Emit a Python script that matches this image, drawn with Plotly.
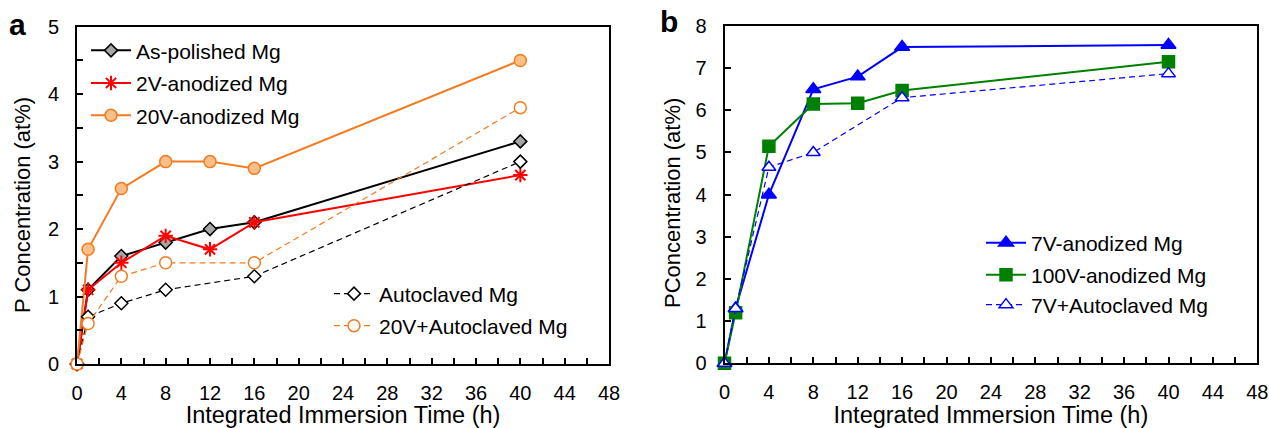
import plotly.graph_objects as go

# ---------------- data ----------------
time_a = [0, 1, 4, 8, 12, 16, 40]
time_auto = [0, 1, 4, 8, 16, 40]
as_polished = [0, 1.1, 1.6, 1.8, 2.0, 2.1, 3.3]
anod_2v = [0, 1.1, 1.5, 1.9, 1.7, 2.1, 2.8]
anod_20v = [0, 1.7, 2.6, 3.0, 3.0, 2.9, 4.5]
autoclaved = [0, 0.7, 0.9, 1.1, 1.3, 3.0]
v20_autoclaved = [0, 0.6, 1.3, 1.5, 1.5, 3.8]

time_b = [0, 1, 4, 8, 12, 16, 40]
anod_7v = [0, 1.3, 4.0, 6.5, 6.8, 7.5, 7.55]
anod_100v = [0, 1.2, 5.15, 6.15, 6.17, 6.47, 7.15]
v7_autoclaved = [0, 1.3, 4.65, 5.0, 6.3, 6.87]

x_ticks = [0, 4, 8, 12, 16, 20, 24, 28, 32, 36, 40, 44, 48]

W, H = 1269, 428
FONT = "Liberation Sans, Arial, sans-serif"
ORANGE = "#F47B20"
LIGHT_ORANGE = "#FBC08A"

fig = go.Figure()

def add(x, y, name, legend, xa, ya, color, dash, symbol, msize, mfill, mline, lw):
    fig.add_trace(go.Scatter(
        x=x, y=y, name=name, mode="lines+markers", legend=legend,
        xaxis=xa, yaxis=ya, cliponaxis=False,
        line=dict(color=color, width=lw, dash=dash),
        marker=dict(symbol=symbol, size=msize, color=mfill,
                    line=dict(color=mline, width=1.5 if symbol != "asterisk-open" else 2)),
    ))

add(time_a, as_polished, "As-polished Mg", "legend", "x", "y", "black", "solid",
    "diamond", 10, "#A6A6A6", "black", 2)
add(time_a, anod_2v, "2V-anodized Mg", "legend2", "x", "y", "#FF0000", "solid",
    "asterisk-open", 12, "#FF0000", "#FF0000", 2)
add(time_a, anod_20v, "20V-anodized Mg", "legend3", "x", "y", ORANGE, "solid",
    "circle", 12, LIGHT_ORANGE, ORANGE, 2)
add(time_auto, autoclaved, "Autoclaved Mg", "legend4", "x", "y", "black", "6px,4px",
    "diamond", 10, "white", "black", 1.2)
add(time_auto, v20_autoclaved, "20V+Autoclaved Mg", "legend5", "x", "y", ORANGE, "6px,4px",
    "circle", 12, "white", ORANGE, 1.2)

add(time_b, anod_7v, "7V-anodized Mg", "legend6", "x2", "y2", "#0000FF", "solid",
    "triangle-up", 13, "#0000FF", "#0000FF", 2)
add(time_b, anod_100v, "100V-anodized Mg", "legend7", "x2", "y2", "#008000", "solid",
    "square", 12, "#008000", "#008000", 2)
add(time_auto, v7_autoclaved, "7V+Autoclaved Mg", "legend8", "x2", "y2", "#0000FF", "6px,4px",
    "triangle-up", 12, "white", "#0000FF", 1.2)

def px_x(p):
    return p / W

def px_y(p):
    return 1 - p / H

axis_common = dict(
    showline=True, linecolor="black", linewidth=2, mirror=True,
    ticks="inside", ticklen=6, tickwidth=1.5, tickcolor="black",
    showgrid=False, zeroline=False, automargin=False,
    tickfont=dict(family=FONT, size=20, color="black"),
    title_font=dict(family=FONT, size=23.5, color="black"),
)
minor_x = dict(dtick=2, ticks="inside", ticklen=6, tickcolor="black", tickwidth=1.5)

fig.update_layout(
    width=W, height=H, margin=dict(l=0, r=0, t=0, b=0, autoexpand=False),
    paper_bgcolor="white", plot_bgcolor="white",
    font=dict(family=FONT, size=20, color="black"),
    xaxis=dict(domain=[px_x(77), px_x(609)], range=[0, 48], tickvals=x_ticks,
               minor=minor_x,
               title=dict(text="Integrated Immersion Time (h)", standoff=4),
               ticklabelstandoff=10, anchor="y", **axis_common),
    yaxis=dict(domain=[px_y(364), px_y(26.7)], range=[0, 5], dtick=1,
               minor=dict(dtick=0.5, ticks="inside", ticklen=6, tickcolor="black", tickwidth=1.5),
               ticklabelstandoff=12, anchor="x", **axis_common),
    xaxis2=dict(domain=[px_x(724.5), px_x(1257.3)], range=[0, 48], tickvals=x_ticks,
                minor=minor_x,
                title=dict(text="Integrated Immersion Time (h)", standoff=4),
                ticklabelstandoff=10, anchor="y2", **axis_common),
    yaxis2=dict(domain=[px_y(363.3), px_y(26)], range=[0, 8], dtick=1,
                ticklabelstandoff=12, anchor="x2", **axis_common),
    showlegend=True,
)

leg_common = dict(xanchor="left", yanchor="middle", bgcolor="rgba(0,0,0,0)",
                  borderwidth=0, itemwidth=40,
                  font=dict(family=FONT, size=21, color="black"))
legend_pos = {
    "legend": (86, 50.7), "legend2": (86, 83.3), "legend3": (86, 115.7),
    "legend4": (329, 294), "legend5": (329, 326),
    "legend6": (981, 243), "legend7": (981, 275), "legend8": (981, 305),
}
for k, (lx, ly) in legend_pos.items():
    fig.update_layout({k: dict(x=px_x(lx), y=px_y(ly), **leg_common)})

# y-axis titles (rotated) and panel letters
fig.add_annotation(text="P Concentration (at%)", x=px_x(22), y=px_y(205), xref="paper",
                   yref="paper", showarrow=False, textangle=-90, xanchor="center",
                   yanchor="middle", font=dict(family=FONT, size=22, color="black"))
fig.add_annotation(text="PConcentration (at%)", x=px_x(672), y=px_y(203), xref="paper",
                   yref="paper", showarrow=False, textangle=-90, xanchor="center",
                   yanchor="middle", font=dict(family=FONT, size=22, color="black"))
fig.add_annotation(text="<b>a</b>", x=px_x(17), y=px_y(24), xref="paper", yref="paper",
                   showarrow=False, xanchor="center", yanchor="middle",
                   font=dict(family=FONT, size=30, color="black"))
fig.add_annotation(text="<b>b</b>", x=px_x(669), y=px_y(22), xref="paper", yref="paper",
                   showarrow=False, xanchor="center", yanchor="middle",
                   font=dict(family=FONT, size=30, color="black"))

fig.write_html(
    "out.html",
    config={"displayModeBar": False},
    post_script="document.body.style.margin='0';document.body.style.padding='0';",
)
